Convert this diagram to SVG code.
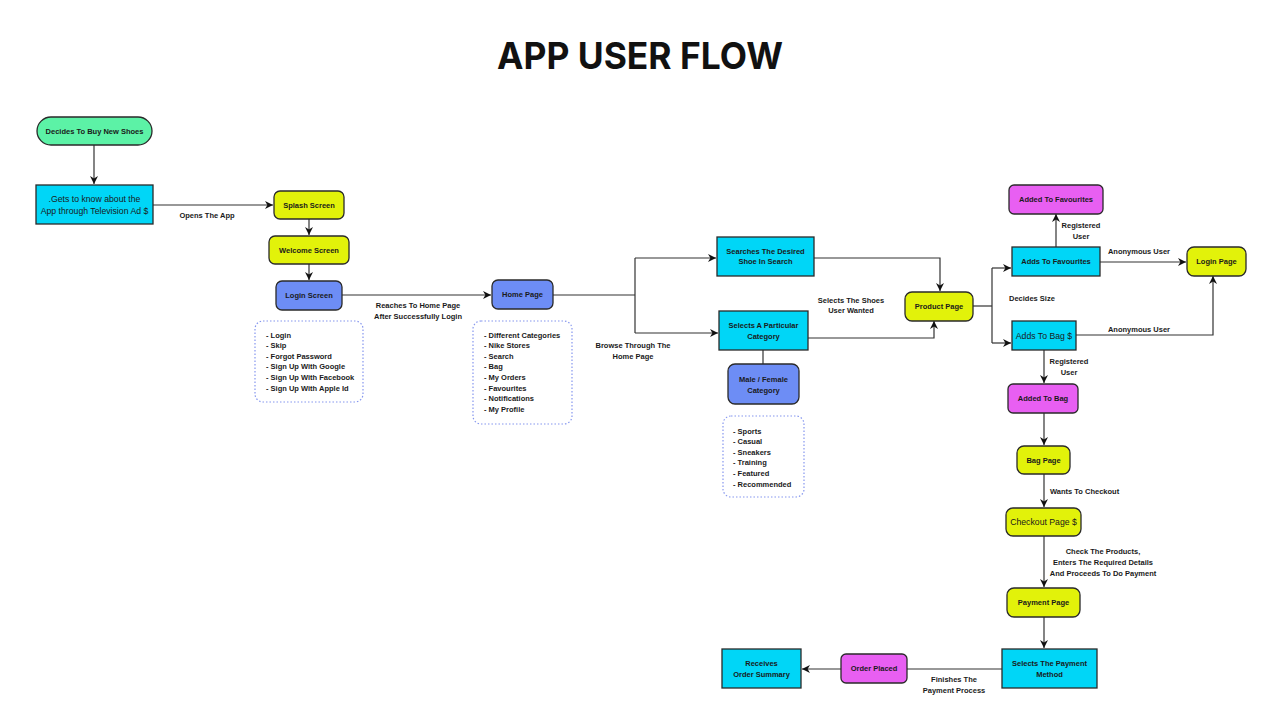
<svg xmlns="http://www.w3.org/2000/svg" width="1280" height="720" viewBox="0 0 1280 720">
<defs>
<marker id="ah" viewBox="0 0 10 10" refX="10" refY="5" markerWidth="8" markerHeight="8" markerUnits="userSpaceOnUse" orient="auto"><path d="M0,0 L10,5 L0,10 L3,5 z" fill="#111"/></marker>
<style>
.n{stroke:#2a2a2a;stroke-width:1.3}
.g{fill:#5cf2a6}.c{fill:#00d6f7}.y{fill:#e2f20a}.b{fill:#6d8df5}.m{fill:#e85ff2}
.t{font-family:"Liberation Sans",Arial,sans-serif;font-weight:bold;font-size:7.5px;fill:#1a1a1a;text-anchor:middle}
.r{font-family:"Liberation Sans",Arial,sans-serif;font-size:8.7px;fill:#1a1a1a;text-anchor:middle}
.l{font-family:"Liberation Sans",Arial,sans-serif;font-weight:bold;font-size:7.5px;fill:#1a1a1a}
.d{fill:#fff;stroke:#8596ee;stroke-width:1.2;stroke-dasharray:1.5 2}
.e{fill:none;stroke:#333;stroke-width:1.2}
</style>
</defs>
<rect width="1280" height="720" fill="#fff"/>
<text x="640" y="69" font-family="Inter,'Liberation Sans',sans-serif" font-weight="bold" font-size="37" text-anchor="middle" fill="#111" textLength="286" lengthAdjust="spacingAndGlyphs">APP USER FLOW</text>

<g id="connectors">
<path class="e" d="M94,145 V184" marker-end="url(#ah)"/>
<path class="e" d="M153,205 H273" marker-end="url(#ah)"/>
<path class="e" d="M309,219 V235" marker-end="url(#ah)"/>
<path class="e" d="M309,264 V280" marker-end="url(#ah)"/>
<path class="e" d="M342,295 H491" marker-end="url(#ah)"/>
<path class="e" d="M553,295 H635"/>
<path class="e" d="M635,258 V333"/>
<path class="e" d="M635,258 H716" marker-end="url(#ah)"/>
<path class="e" d="M635,333 H718" marker-end="url(#ah)"/>
<path class="e" d="M814,258 H940 V291" marker-end="url(#ah)"/>
<path class="e" d="M808,338 H934 V321" marker-end="url(#ah)"/>
<path class="e" d="M763,350 V364"/>
<path class="e" d="M973,306 H992"/>
<path class="e" d="M992,268 V343"/>
<path class="e" d="M992,268 H1011" marker-end="url(#ah)"/>
<path class="e" d="M992,343 H1011" marker-end="url(#ah)"/>
<path class="e" d="M1056,247 V214" marker-end="url(#ah)"/>
<path class="e" d="M1100,262 H1186" marker-end="url(#ah)"/>
<path class="e" d="M1076,335 H1213 V276" marker-end="url(#ah)"/>
<path class="e" d="M1044,350 V383" marker-end="url(#ah)"/>
<path class="e" d="M1044,413 V445" marker-end="url(#ah)"/>
<path class="e" d="M1044,474 V507" marker-end="url(#ah)"/>
<path class="e" d="M1044,536 V587" marker-end="url(#ah)"/>
<path class="e" d="M1044,617 V648" marker-end="url(#ah)"/>
<path class="e" d="M1002,669 H842" marker-end="url(#ah)"/>
<path class="e" d="M841,669 H802" marker-end="url(#ah)"/>
<text class="t" x="207" y="218">Opens The App</text>
<text class="t" x="418" y="308">Reaches To Home Page</text>
<text class="t" x="418" y="319">After Successfully Login</text>
<text class="t" x="633" y="348">Browse Through The</text>
<text class="t" x="633" y="359">Home Page</text>
<text class="t" x="851" y="303">Selects The Shoes</text>
<text class="t" x="851" y="313">User Wanted</text>
<text class="t" x="1081" y="228">Registered</text>
<text class="t" x="1081" y="239">User</text>
<text class="t" x="1139" y="254">Anonymous User</text>
<text class="l" x="1009" y="301">Decides Size</text>
<text class="t" x="1139" y="332">Anonymous User</text>
<text class="t" x="1069" y="364">Registered</text>
<text class="t" x="1069" y="375">User</text>
<text class="l" x="1050" y="494">Wants To Checkout</text>
<text class="t" x="1103" y="554">Check The Products,</text>
<text class="t" x="1103" y="564.5">Enters The Required Details</text>
<text class="t" x="1103" y="575.5">And Proceeds To Do Payment</text>
<text class="t" x="954" y="682">Finishes The</text>
<text class="t" x="954" y="693">Payment Process</text>
</g>

<g id="n-decides"><rect class="n g" x="37" y="117" width="115" height="28" rx="14"/><text class="t" x="94.5" y="133.7">Decides To Buy New Shoes</text></g>
<g id="n-gets"><rect class="n c" x="36" y="185" width="117" height="39"/><text class="r" x="94.5" y="202">.Gets to know about the</text><text class="r" x="94.5" y="214">App through Television Ad $</text></g>
<g id="n-splash"><rect class="n y" x="274" y="191" width="70" height="28" rx="6"/><text class="t" x="309" y="207.7">Splash Screen</text></g>
<g id="n-welcome"><rect class="n y" x="269" y="236" width="80" height="28" rx="6"/><text class="t" x="309" y="252.7">Welcome Screen</text></g>
<g id="n-login"><rect class="n b" x="276" y="281" width="66" height="29" rx="6"/><text class="t" x="309" y="298.2">Login Screen</text></g>
<g id="n-login-list"><rect class="d" x="255" y="321" width="108" height="81" rx="8"/>
<text class="l" x="266"><tspan x="266" y="337.5">- Login</tspan><tspan x="266" dy="10.6">- Skip</tspan><tspan x="266" dy="10.6">- Forgot Password</tspan><tspan x="266" dy="10.6">- Sign Up With Google</tspan><tspan x="266" dy="10.6">- Sign Up With Facebook</tspan><tspan x="266" dy="10.6">- Sign Up With Apple Id</tspan></text></g>
<g id="n-home"><rect class="n b" x="492" y="280" width="61" height="29" rx="6"/><text class="t" x="522.5" y="297.2">Home Page</text></g>
<g id="n-home-list"><rect class="d" x="473" y="321" width="99" height="103" rx="8"/>
<text class="l"><tspan x="484" y="337.5">- Different Categories</tspan><tspan x="484" dy="10.6">- Nike Stores</tspan><tspan x="484" dy="10.6">- Search</tspan><tspan x="484" dy="10.6">- Bag</tspan><tspan x="484" dy="10.6">- My Orders</tspan><tspan x="484" dy="10.6">- Favourites</tspan><tspan x="484" dy="10.6">- Notifications</tspan><tspan x="484" dy="10.6">- My Profile</tspan></text></g>
<g id="n-search"><rect class="n c" x="717" y="237" width="97" height="39"/><text class="t" x="765.5" y="253.5">Searches The Desired</text><text class="t" x="765.5" y="264">Shoe In Search</text></g>
<g id="n-category"><rect class="n c" x="719" y="311" width="89" height="39"/><text class="t" x="763.5" y="327.7">Selects A Particular</text><text class="t" x="763.5" y="338.5">Category</text></g>
<g id="n-gender"><rect class="n b" x="728" y="364" width="71" height="40" rx="7"/><text class="t" x="763.5" y="382">Male / Female</text><text class="t" x="763.5" y="392.7">Category</text></g>
<g id="n-gender-list"><rect class="d" x="723" y="416" width="81" height="81" rx="8"/>
<text class="l"><tspan x="733" y="433.5">- Sports</tspan><tspan x="733" dy="10.6">- Casual</tspan><tspan x="733" dy="10.6">- Sneakers</tspan><tspan x="733" dy="10.6">- Training</tspan><tspan x="733" dy="10.6">- Featured</tspan><tspan x="733" dy="10.6">- Recommended</tspan></text></g>
<g id="n-product"><rect class="n y" x="905" y="292" width="68" height="29" rx="7"/><text class="t" x="939" y="309.2">Product Page</text></g>
<g id="n-added-fav"><rect class="n m" x="1009" y="185" width="94" height="29" rx="5"/><text class="t" x="1056" y="202.2">Added To Favourites</text></g>
<g id="n-adds-fav"><rect class="n c" x="1012" y="247" width="88" height="29"/><text class="t" x="1056" y="264.2">Adds To Favourites</text></g>
<g id="n-login-page"><rect class="n y" x="1187" y="247" width="59" height="29" rx="7"/><text class="t" x="1216.5" y="264.2">Login Page</text></g>
<g id="n-adds-bag"><rect class="n c" x="1012" y="321" width="64" height="29"/><text class="r" x="1044" y="338.5">Adds To Bag $</text></g>
<g id="n-added-bag"><rect class="n m" x="1008" y="384" width="70" height="29" rx="5"/><text class="t" x="1043" y="401.2">Added To Bag</text></g>
<g id="n-bag"><rect class="n y" x="1017" y="446" width="53" height="28" rx="7"/><text class="t" x="1043.5" y="462.7">Bag Page</text></g>
<g id="n-checkout"><rect class="n y" x="1006" y="508" width="75" height="28" rx="7"/><text class="r" x="1043.5" y="525">Checkout Page $</text></g>
<g id="n-payment"><rect class="n y" x="1007" y="588" width="73" height="29" rx="7"/><text class="t" x="1043.5" y="605.2">Payment Page</text></g>
<g id="n-method"><rect class="n c" x="1002" y="649" width="95" height="39"/><text class="t" x="1049.5" y="666">Selects The Payment</text><text class="t" x="1049.5" y="676.5">Method</text></g>
<g id="n-placed"><rect class="n m" x="841" y="654" width="66" height="29" rx="5"/><text class="t" x="874" y="671.2">Order Placed</text></g>
<g id="n-summary"><rect class="n c" x="722" y="649" width="79" height="39"/><text class="t" x="761.5" y="666">Receives</text><text class="t" x="761.5" y="676.5">Order Summary</text></g>
</svg>
